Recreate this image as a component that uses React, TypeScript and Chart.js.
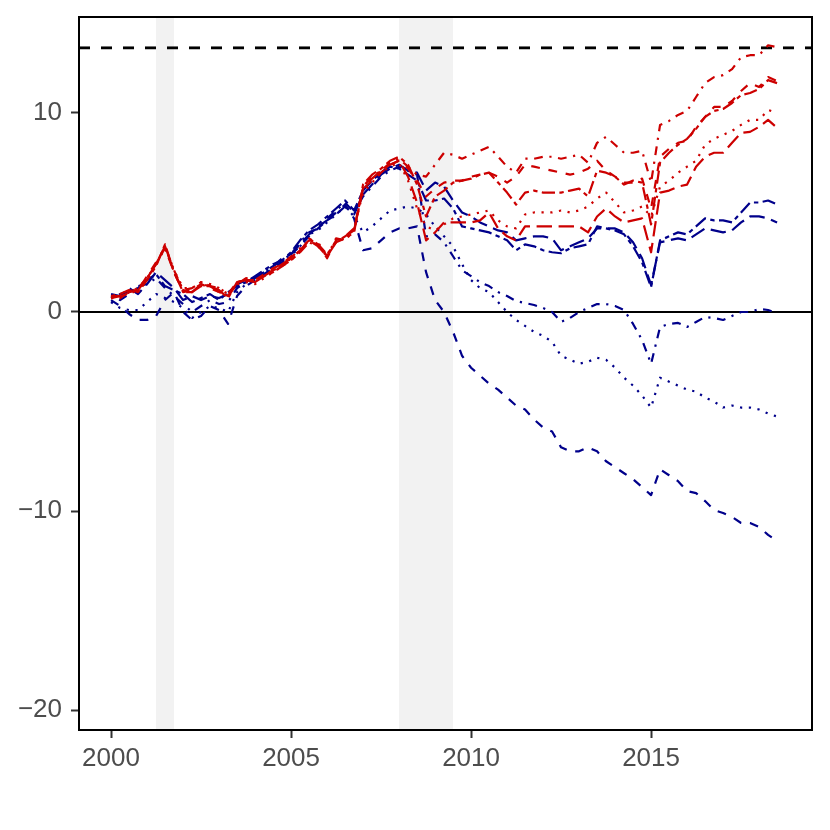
import { Chart, registerables } from "chart.js"
import React, { useEffect, useRef } from "react"

Chart.register(...registerables)

// quarterly observations, first one is 2000 Q1
const startYear = 2000

const redDotdash = [
  0.8, 0.7, 1.0, 1.2, 1.7, 2.4, 3.3, 2.1, 1.1, 1.2, 1.5, 1.3, 1.2, 0.9, 1.5, 1.6,
  1.5, 1.8, 2.1, 2.3, 2.7, 3.2, 3.6, 3.5, 2.8, 3.7, 3.6, 4.1, 6.3, 6.8, 7.1, 7.5, 7.7,
  7.3, 6.9, 6.8, 7.4, 8.0, 7.9, 7.7, 7.9, 8.1, 8.3, 7.8, 7.3, 7.0, 7.7, 7.7, 7.8,
  7.8, 7.7, 7.8, 7.9, 7.5, 8.5, 8.8, 8.4, 8.0, 8.0, 8.1, 6.5, 9.4, 9.6, 9.9, 10.1,
  10.8, 11.5, 11.8, 11.9, 12.2, 12.8, 12.9, 12.9, 13.4, 13.3,
]
const redDashed = [
  0.7, 0.8, 1.0, 1.1, 1.8, 2.5, 3.2, 2.0, 1.0, 1.1, 1.4, 1.2, 1.0, 0.8, 1.4, 1.7,
  1.6, 1.9, 2.2, 2.4, 2.8, 3.0, 3.5, 3.4, 2.7, 3.6, 3.8, 4.2, 6.2, 6.6, 7.0, 7.4, 7.6,
  7.2, 6.6, 5.8, 6.2, 6.5, 6.6, 6.6, 6.8, 6.9, 7.0, 6.8, 6.5, 6.8, 7.4, 7.3, 7.2,
  7.1, 7.0, 6.9, 7.0, 7.2, 7.6, 7.1, 6.8, 6.5, 6.5, 6.7, 5.2, 7.8, 8.2, 8.5, 8.6,
  9.3, 9.8, 10.3, 10.3, 10.6, 11.1, 11.5, 11.3, 11.8, 11.6,
]
const redTwodash = [
  0.8, 0.9, 1.1, 1.0, 1.6, 2.3, 3.4, 2.0, 1.1, 1.0, 1.3, 1.3, 1.1, 0.7, 1.5, 1.6,
  1.5, 1.8, 2.0, 2.3, 2.6, 3.0, 3.7, 3.4, 2.9, 3.5, 3.7, 4.0, 6.4, 6.9, 7.2, 7.6, 7.8,
  7.4, 6.4, 4.8, 5.8, 6.1, 6.5, 6.6, 6.7, 6.9, 7.0, 6.5, 6.0, 5.4, 6.0, 6.1, 6.0,
  6.0, 6.0, 6.1, 6.2, 5.8, 7.1, 7.0, 6.8, 6.4, 6.6, 6.5, 4.4, 7.5, 8.0, 8.4, 8.7,
  9.2, 9.8, 10.1, 10.2, 10.5, 10.9, 11.0, 11.2, 11.65, 11.5,
]
const redDotted = [
  0.7, 0.7, 1.0, 1.2, 1.7, 2.4, 3.2, 2.1, 1.2, 1.2, 1.5, 1.4, 1.2, 0.9, 1.4, 1.5,
  1.4, 1.7, 2.0, 2.3, 2.6, 3.1, 3.5, 3.3, 2.8, 3.6, 3.7, 4.2, 6.0, 6.5, 7.0, 7.3, 7.5,
  6.6, 5.2, 4.3, 4.1, 4.4, 4.7, 4.8, 4.9, 5.0, 5.1, 4.6, 4.3, 4.2, 4.9, 5.0, 5.0,
  5.0, 5.1, 5.0, 5.1, 5.3, 5.7, 6.0, 5.5, 5.0, 5.1, 5.3, 4.8, 6.3, 6.6, 7.0, 7.3,
  7.6, 8.4, 8.7, 8.9, 9.1, 9.4, 9.65, 9.65, 10.15, 10.0,
]
const redLongdash = [
  0.8, 0.8, 0.9, 1.1, 1.7, 2.4, 3.3, 2.0, 1.0, 1.0, 1.4, 1.3, 1.0, 0.8, 1.5, 1.6,
  1.6, 1.8, 2.1, 2.4, 2.7, 3.1, 3.6, 3.3, 2.8, 3.5, 3.8, 4.1, 6.2, 6.7, 7.1, 7.4, 7.6,
  6.8, 5.5, 3.6, 4.0, 4.5, 4.5, 4.5, 4.5, 4.6, 5.0, 4.2, 3.8, 3.6, 4.3, 4.3, 4.3,
  4.3, 4.3, 4.3, 4.3, 4.0, 4.8, 5.2, 4.8, 4.5, 4.6, 4.7, 3.0, 6.0, 6.1, 6.3, 6.4,
  7.3, 7.8, 8.0, 8.0, 8.5, 9.0, 9.05, 9.3, 9.65, 9.25,
]

const blueTwodash = [
  0.7, 0.9, 1.0, 1.2, 1.6, 1.9, 1.3, 1.1, 0.9, 0.5, 0.7, 0.9, 0.6, 1.0, 1.3, 1.5,
  1.8, 2.1, 2.4, 2.6, 3.0, 3.6, 4.1, 4.4, 4.8, 5.2, 5.6, 5.1, 6.1, 6.6, 7.0, 7.3, 7.2,
  6.9, 6.6, 5.6, 5.6, 5.7, 5.2, 4.3, 4.2, 4.1, 4.0, 3.8, 3.6, 3.1, 3.4, 3.3, 3.1,
  3.0, 2.95, 3.2, 3.3, 3.4, 4.3, 4.2, 4.1, 3.9, 3.3, 2.5, 1.25, 3.6, 3.8, 4.0, 3.9,
  4.3, 4.7, 4.6, 4.6, 4.5, 5.0, 5.5, 5.5, 5.6, 5.4,
]
const blueLongdash = [
  0.9, 0.8, 1.2, 0.9, 1.4, 2.0, 1.6, 1.2, 0.6, 0.8, 0.6, 0.8, 0.7, 0.9, 1.4, 1.6,
  1.7, 2.0, 2.3, 2.7, 2.9, 3.4, 3.9, 4.3, 4.6, 4.9, 5.3, 4.9, 5.9, 6.4, 6.9, 7.2, 7.4,
  7.1, 7.0, 6.1, 6.5, 6.3, 5.6, 5.0, 4.8, 4.5, 4.3, 4.1, 4.0, 3.6, 3.7, 3.8, 3.8,
  3.7, 3.1, 3.3, 3.5, 3.7, 4.2, 4.2, 4.2, 4.0, 3.5, 2.7, 1.35, 3.5, 3.6, 3.7, 3.6,
  3.9, 4.2, 4.1, 4.0, 4.1, 4.5, 4.8, 4.8, 4.7, 4.5,
]
const blueDotdash = [
  0.8, 0.6, 0.9, 1.3, 1.4, 1.7, 1.2, 0.8, 0.4, 0.0, 0.3, 0.6, 0.4, 0.5, 1.2, 1.5,
  1.7, 2.0, 2.3, 2.6, 2.9, 3.5, 4.0, 4.2, 4.7, 5.1, 5.5, 5.0, 5.8, 6.3, 6.8, 7.1, 7.3,
  7.1, 6.9, 3.8, 3.9, 3.5, 2.8, 2.1, 1.8, 1.5, 1.3, 1.0, 0.8, 0.55, 0.45, 0.35, 0.2,
  0.0, -0.5, -0.3, 0.0, 0.2, 0.4, 0.4, 0.3, 0.1, -0.6, -1.4, -2.6, -0.75, -0.6, -0.55, -0.75,
  -0.5, -0.25, -0.3, -0.4, -0.2, 0.0, 0.0, 0.15, 0.1, -0.05,
]
const blueDotted = [
  0.5, 0.2, 0.1, 0.1, 0.5, 0.9, 0.7, 0.5, 0.2, -0.3, 0.0, 0.3, 0.2, 0.0, 1.0, 1.4,
  1.6, 1.9, 2.2, 2.5, 2.8, 3.3, 3.9, 4.1, 4.5, 4.9, 5.3, 4.8, 4.0, 4.3, 4.7, 5.1, 5.2,
  5.3, 5.2, 4.9, 4.3, 3.8, 3.3, 2.4, 1.6, 1.2, 1.0, 0.5, 0.0, -0.4, -0.7, -1.0, -1.2,
  -1.5, -2.2, -2.4, -2.6, -2.5, -2.3, -2.4, -2.8, -3.3, -3.7, -4.2, -4.8, -3.3, -3.5, -3.7, -3.9,
  -4.0, -4.3, -4.5, -4.8, -4.7, -4.8, -4.8, -4.9, -5.1, -5.25,
]
const blueDashed = [
  0.6, 0.3, -0.1, -0.4, -0.4, -0.2, 0.6, 1.0, 0.0, -0.4, -0.2, 0.3, 0.1, -0.6, 0.8, 1.3,
  1.6, 1.9, 2.2, 2.5, 2.9, 3.3, 3.8, 4.2, 4.6, 5.0, 5.4, 4.7, 3.1, 3.2, 3.6, 4.0, 4.2,
  4.2, 4.3, 2.0, 0.6, 0.0, -1.0, -2.2, -2.8, -3.2, -3.6, -3.9, -4.3, -4.7, -4.9, -5.4, -5.8,
  -6.0, -6.8, -7.0, -7.0, -6.8, -7.0, -7.5, -7.8, -8.1, -8.4, -8.8, -9.2, -7.9, -8.2, -8.5, -9.0,
  -9.1, -9.5, -9.95, -10.1, -10.3, -10.6, -10.6, -10.8, -11.2, -11.5,
]

const recessionStart = [2001.25, 2008.0]
const recessionEnd = [2001.75, 2009.5]
const targetLevel = 13.27

const xTicks = [2000, 2005, 2010, 2015]
const yTicks = [-20, -10, 0, 10]

const red = "#CD0000"
const blue = "#00008B"
const lw = 2.2
const dashes = {
  dashed: [4 * lw, 4 * lw],
  dotted: [1 * lw, 3 * lw],
  dotdash: [1 * lw, 3 * lw, 4 * lw, 3 * lw],
  longdash: [7 * lw, 3 * lw],
  twodash: [2 * lw, 2 * lw, 6 * lw, 2 * lw],
}

const series: [number[], string, number[]][] = [
  [redDotdash, red, dashes.dotdash],
  [redDashed, red, dashes.dashed],
  [redTwodash, red, dashes.twodash],
  [redDotted, red, dashes.dotted],
  [redLongdash, red, dashes.longdash],
  [blueTwodash, blue, dashes.twodash],
  [blueLongdash, blue, dashes.longdash],
  [blueDotdash, blue, dashes.dotdash],
  [blueDotted, blue, dashes.dotted],
  [blueDashed, blue, dashes.dashed],
]

const panelPlugin = {
  id: "panel",
  beforeDatasetsDraw(chart: Chart) {
    const { ctx, chartArea, scales } = chart
    const x = scales.x
    const y = scales.y
    ctx.save()
    ctx.fillStyle = "#F2F2F2"
    recessionStart.forEach((s, i) => {
      const x0 = x.getPixelForValue(s)
      const x1 = x.getPixelForValue(recessionEnd[i])
      ctx.fillRect(x0, chartArea.top, x1 - x0, chartArea.bottom - chartArea.top)
    })
    // zero line
    ctx.strokeStyle = "#000000"
    ctx.lineWidth = 2
    ctx.beginPath()
    ctx.moveTo(chartArea.left, y.getPixelForValue(0))
    ctx.lineTo(chartArea.right, y.getPixelForValue(0))
    ctx.stroke()
    // target line
    ctx.lineWidth = 2.8
    ctx.setLineDash([11, 11])
    ctx.beginPath()
    ctx.moveTo(chartArea.left, y.getPixelForValue(targetLevel))
    ctx.lineTo(chartArea.right, y.getPixelForValue(targetLevel))
    ctx.stroke()
    ctx.restore()
  },
  afterDraw(chart: Chart) {
    const { ctx, chartArea } = chart
    ctx.save()
    ctx.strokeStyle = "#000000"
    ctx.lineWidth = 2
    ctx.strokeRect(chartArea.left, chartArea.top, chartArea.right - chartArea.left, chartArea.bottom - chartArea.top)
    ctx.restore()
  },
}

const tickFont = { family: "'Liberation Sans', Arial, sans-serif", size: 26 }

const App: React.FC = () => {
  const chartRef = useRef<HTMLCanvasElement>(null)
  const chartInstanceRef = useRef<Chart | null>(null)

  useEffect(() => {
    const ctx = chartRef.current?.getContext("2d")
    if (!ctx) return

    chartInstanceRef.current = new Chart(ctx, {
      type: "line",
      data: {
        datasets: series.map(([values, color, dash]) => ({
          data: values.map((v, i) => ({ x: startYear + i / 4, y: v })),
          borderColor: color,
          borderWidth: lw,
          borderDash: dash,
          borderCapStyle: "butt",
          borderJoinStyle: "round",
          pointRadius: 0,
          fill: false,
          tension: 0,
        })),
      },
      options: {
        animation: false,
        responsive: false,
        devicePixelRatio: 1,
        layout: { padding: { left: 0, right: 18, top: 17, bottom: 0 } },
        plugins: {
          legend: { display: false },
          tooltip: { enabled: false },
        },
        scales: {
          x: {
            type: "linear",
            min: 1999.11,
            max: 2019.47,
            afterBuildTicks: (scale) => {
              scale.ticks = xTicks.map((v) => ({ value: v }))
            },
            afterFit: (scale) => {
              scale.height = 100
              scale.paddingLeft = 0
              scale.paddingRight = 0
            },
            ticks: {
              color: "#4D4D4D",
              font: tickFont,
              padding: 5,
              maxRotation: 0,
              autoSkip: false,
              callback: (v) => String(v),
            },
            grid: {
              drawOnChartArea: false,
              tickLength: 8,
              tickWidth: 2,
              tickColor: "#333333",
            },
            border: { display: false },
          },
          y: {
            type: "linear",
            min: -21.0,
            max: 14.82,
            afterBuildTicks: (scale) => {
              scale.ticks = yTicks.map((v) => ({ value: v }))
            },
            afterFit: (scale) => {
              scale.width = 79
              scale.paddingTop = 0
              scale.paddingBottom = 0
            },
            ticks: {
              color: "#4D4D4D",
              font: tickFont,
              padding: 9,
              autoSkip: false,
              callback: (v) => (Number(v) < 0 ? "\u2212" + Math.abs(Number(v)) : String(v)),
            },
            grid: {
              drawOnChartArea: false,
              tickLength: 8,
              tickWidth: 2,
              tickColor: "#333333",
            },
            border: { display: false },
          },
        },
      },
      plugins: [panelPlugin],
    })

    return () => {
      chartInstanceRef.current?.destroy()
    }
  }, [])

  return (
    <div style={{ position: "fixed", left: 0, top: 0, width: 830, height: 830, background: "#ffffff" }}>
      <canvas ref={chartRef} width={830} height={830}></canvas>
    </div>
  )
}

export default App
